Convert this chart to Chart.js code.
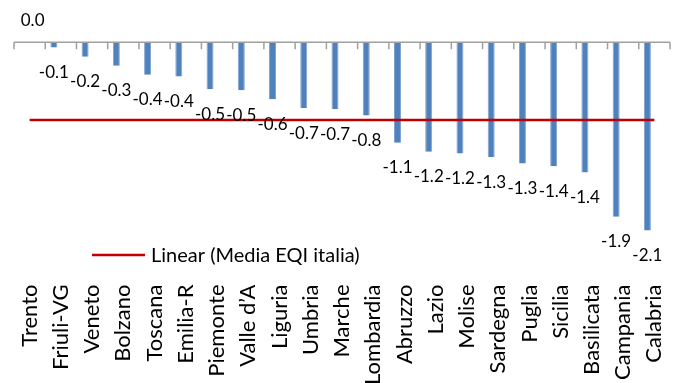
<!DOCTYPE html>
<html>
<head>
<meta charset="utf-8">
<script src="https://cdn.jsdelivr.net/npm/chart.js@4/dist/chart.umd.min.js"></script>
<style>
  html, body { margin: 0; padding: 0; background: #fff; overflow: hidden; }
  #wrap { width: 681px; height: 420px; }
</style>
</head>
<body>
<div id="wrap"><canvas id="chart"></canvas></div>
<script>
// Regions, ordered from best to worst EQI gap
const regioni = ['Trento', 'Friuli-VG', 'Veneto', 'Bolzano', 'Toscana', 'Emilia-R', 'Piemonte',
  'Valle d\u2019A', 'Liguria', 'Umbria', 'Marche', 'Lombardia', 'Abruzzo', 'Lazio', 'Molise',
  'Sardegna', 'Puglia', 'Sicilia', 'Basilicata', 'Campania', 'Calabria'];

// EQI values per region
const eqi = [0.00, -0.06, -0.16, -0.26, -0.36, -0.38, -0.52,
  -0.53, -0.63, -0.73, -0.74, -0.81, -1.11, -1.21, -1.23,
  -1.27, -1.34, -1.37, -1.44, -1.93, -2.08];

// Italian average (flat trend line)
const mediaItalia = -0.86;
const mediaLabel = 'Linear (Media EQI italia)';

const FONT = 'Lato, "Open Sans", sans-serif';
const BLUE = '#4F81BD';
const RED = '#C00000';
const AXIS_GREY = '#A0A0A0';

const empty = regioni.map(() => null);

// Zero axis line with tick marks at category boundaries
const zeroAxis = {
  id: 'zeroAxis',
  afterDatasetsDraw(chart) {
    const { ctx, chartArea, scales } = chart;
    const x = scales.x, y = scales.y;
    const y0 = y.getPixelForValue(0);
    const step = x.getPixelForValue(1) - x.getPixelForValue(0);
    ctx.save();
    ctx.strokeStyle = AXIS_GREY;
    ctx.lineWidth = 1.5;
    ctx.beginPath();
    ctx.moveTo(chartArea.left, y0);
    ctx.lineTo(chartArea.right, y0);
    for (let i = 0; i <= regioni.length; i++) {
      const px = x.getPixelForValue(0) - step / 2 + i * step;
      ctx.moveTo(px, y0);
      ctx.lineTo(px, y0 + 7);
    }
    ctx.stroke();
    ctx.restore();
  }
};

// Value labels under each bar
const valueLabels = {
  id: 'valueLabels',
  afterDatasetsDraw(chart) {
    const { ctx } = chart;
    const meta = chart.getDatasetMeta(1);
    ctx.save();
    ctx.font = '17px ' + FONT;
    ctx.fillStyle = '#000';
    ctx.textAlign = 'center';
    ctx.textBaseline = 'middle';
    meta.data.forEach((bar, i) => {
      const v = eqi[i];
      const txt = v.toFixed(1);
      if (v < 0) {
        ctx.fillText(txt, bar.x, bar.y + 25);
      } else {
        ctx.fillText(txt, bar.x + 10, bar.y - 22);
      }
    });
    ctx.restore();
  }
};

// Legend entry for the trend line, inside the plot
const trendLegend = {
  id: 'trendLegend',
  afterDraw(chart) {
    const { ctx } = chart;
    ctx.save();
    ctx.strokeStyle = RED;
    ctx.lineWidth = 2.5;
    ctx.beginPath();
    ctx.moveTo(92, 255);
    ctx.lineTo(145, 255);
    ctx.stroke();
    ctx.font = '20px ' + FONT;
    ctx.fillStyle = '#000';
    ctx.textAlign = 'left';
    ctx.textBaseline = 'middle';
    ctx.fillText(chart.data.datasets[0].label, 151, 256);
    ctx.restore();
  }
};

new Chart(document.getElementById('chart'), {
  data: {
    labels: regioni,
    datasets: [
      {
        type: 'line',
        label: mediaLabel,
        data: [{ x: regioni[0], y: mediaItalia }, { x: regioni[regioni.length - 1], y: mediaItalia }],
        borderColor: RED,
        borderWidth: 2.5,
        pointRadius: 0,
        fill: false,
        order: 0
      },
      {
        type: 'bar',
        label: 'EQI',
        data: eqi,
        backgroundColor: BLUE,
        borderColor: '#7FA2D1',
        borderWidth: { left: 1, right: 1, bottom: 0, top: 0 },
        borderSkipped: 'start',
        categoryPercentage: 0.672,
        barPercentage: 1.0,
        order: 1
      },
      {
        type: 'bar',
        label: 'Serie 2',
        data: empty,
        backgroundColor: 'rgba(0,0,0,0)',
        categoryPercentage: 0.672,
        barPercentage: 1.0,
        order: 2
      },
      {
        type: 'bar',
        label: 'Media EQI italia',
        data: empty,
        backgroundColor: 'rgba(0,0,0,0)',
        categoryPercentage: 0.672,
        barPercentage: 1.0,
        order: 3
      }
    ]
  },
  options: {
    responsive: true,
    maintainAspectRatio: false,
    devicePixelRatio: 1,
    animation: false,
    layout: { padding: { left: 14, right: 11, top: 15, bottom: 0 } },
    plugins: {
      legend: { display: false },
      tooltip: { enabled: false }
    },
    scales: {
      x: {
        position: 'bottom',
        grid: { display: false, drawTicks: false },
        border: { display: false },
        ticks: {
          autoSkip: false,
          minRotation: 90,
          maxRotation: 90,
          padding: 7,
          color: '#000',
          font: { family: FONT, size: 22 }
        },
        afterFit(scale) {
          scale.height = 142.5;
          scale.paddingLeft = 0;
          scale.paddingRight = 0;
        }
      },
      y: {
        display: false,
        min: -2.6,
        max: 0.3
      }
    }
  },
  plugins: [zeroAxis, valueLabels, trendLegend]
});
</script>
</body>
</html>
